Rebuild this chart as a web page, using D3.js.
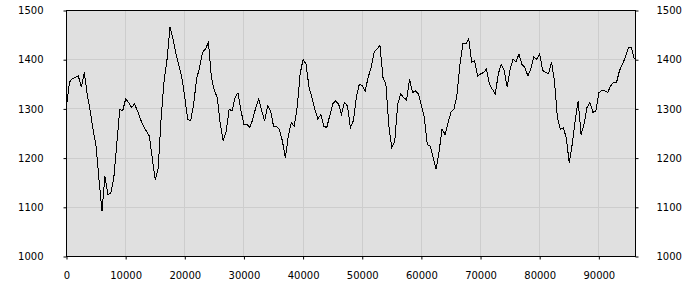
<!DOCTYPE html>
<html>
<head>
<meta charset="utf-8">
<script src="https://cdn.jsdelivr.net/npm/d3@7"></script>
<style>
  body { margin: 0; background: #fff; }
  svg text { font-family: "DejaVu Sans", sans-serif; font-size: 10px; fill: #000; }
</style>
</head>
<body>
<svg id="chart" width="700" height="300"></svg>
<script>
// series sampled every 500 units along x
const xStep = 500;
const values = [
  1306, 1354, 1362, 1364, 1367, 1344, 1374, 1330, 1296, 1258,
  1224, 1156, 1092, 1163, 1126, 1129, 1160, 1228, 1299, 1296,
  1320, 1313, 1303, 1310, 1296, 1279, 1265, 1255, 1245, 1200,
  1156, 1180, 1282, 1357, 1401, 1466, 1442, 1412, 1388, 1364,
  1323, 1279, 1276, 1310, 1361, 1384, 1415, 1422, 1435, 1364,
  1337, 1323, 1269, 1235, 1255, 1299, 1296, 1323, 1333, 1296,
  1269, 1269, 1262, 1279, 1303, 1320, 1296, 1276, 1306, 1296,
  1265, 1265, 1258, 1235, 1200, 1245, 1272, 1265, 1303, 1371,
  1401, 1391, 1344, 1323, 1299, 1279, 1289, 1265, 1262, 1286,
  1310, 1316, 1310, 1289, 1313, 1306, 1262, 1276, 1323, 1350,
  1347, 1337, 1364, 1384, 1415, 1422, 1429, 1364, 1350, 1265,
  1221, 1235, 1310, 1330, 1323, 1318, 1361, 1333, 1337, 1330,
  1306, 1282, 1228, 1224, 1200, 1177, 1214, 1259, 1248, 1272,
  1293, 1299, 1327, 1388, 1432, 1432, 1442, 1395, 1398, 1367,
  1371, 1374, 1381, 1350, 1340, 1330, 1371, 1391, 1378, 1344,
  1381, 1401, 1395, 1412, 1390, 1384, 1367, 1381, 1405, 1401,
  1412, 1378, 1374, 1371, 1395, 1357, 1282, 1258, 1262, 1241,
  1190, 1228, 1276, 1316, 1248, 1269, 1303, 1313, 1293, 1296,
  1333, 1337, 1337, 1333, 1347, 1354, 1354, 1378, 1391, 1405,
  1425, 1425, 1401
];
const xTicks = [0, 10000, 20000, 30000, 40000, 50000, 60000, 70000, 80000, 90000];
const yTicks = [1000, 1100, 1200, 1300, 1400, 1500];
const xMax = 96200;

const margin = {top: 10, right: 65, bottom: 44, left: 66};
const svg = d3.select("#chart");
const width = 700 - margin.left - margin.right;
const height = 300 - margin.top - margin.bottom;

const x = d3.scaleLinear().domain([0, xMax]).range([0, width]);
const y = d3.scaleLinear().domain([1000, 1500]).range([height, 0]);

const g = svg.append("g")
  .attr("transform", `translate(${margin.left + 0.5},${margin.top + 0.5})`);

// plot background
g.append("rect")
  .attr("width", width)
  .attr("height", height)
  .attr("fill", "#e0e0e0");

// grid
g.append("g")
  .selectAll("line").data(xTicks.slice(1)).join("line")
  .attr("x1", d => Math.round(x(d))).attr("x2", d => Math.round(x(d)))
  .attr("y1", 0).attr("y2", height)
  .attr("stroke", "#cdcdcd");

g.append("g")
  .selectAll("line").data(yTicks.slice(1, -1)).join("line")
  .attr("x1", 0).attr("x2", width)
  .attr("y1", d => Math.round(y(d))).attr("y2", d => Math.round(y(d)))
  .attr("stroke", "#cdcdcd");

// the series
const line = d3.line()
  .x((d, i) => x(i * xStep))
  .y(d => y(d));

g.append("path")
  .datum(values)
  .attr("d", line)
  .attr("fill", "none")
  .attr("stroke", "#000")
  .attr("stroke-width", 1)
  .attr("shape-rendering", "crispEdges");

// frame
g.append("rect")
  .attr("width", width)
  .attr("height", height)
  .attr("fill", "none")
  .attr("stroke", "#000")
  .attr("shape-rendering", "crispEdges");

// axes
const fmt = d3.format("d");
const ax = g.append("g")
  .attr("transform", `translate(0,${height})`)
  .call(d3.axisBottom(x).tickValues(xTicks).tickFormat(fmt)
    .tickSize(3).tickSizeOuter(0).tickPadding(12));

const ayl = g.append("g")
  .call(d3.axisLeft(y).tickValues(yTicks).tickFormat(fmt)
    .tickSize(3).tickSizeOuter(0).tickPadding(20));

const ayr = g.append("g")
  .attr("transform", `translate(${width},0)`)
  .call(d3.axisRight(y).tickValues(yTicks).tickFormat(fmt)
    .tickSize(3).tickSizeOuter(0).tickPadding(18));

[ax, ayl, ayr].forEach(a => {
  a.select(".domain").remove();
  a.selectAll("line").attr("stroke", "#000");
  a.selectAll("text").attr("font-size", null).attr("font-family", null);
});
</script>
</body>
</html>
